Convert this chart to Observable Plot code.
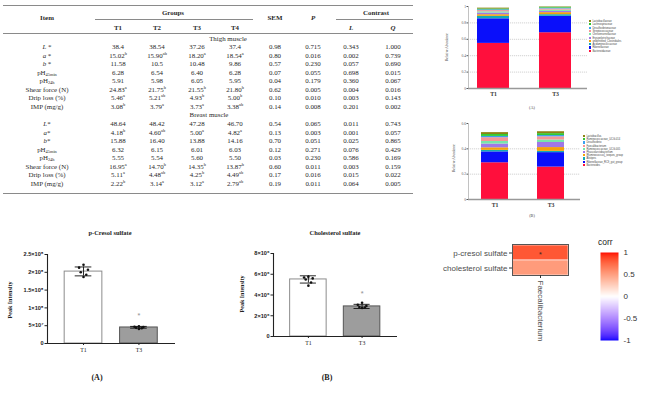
<!DOCTYPE html>
<html><head><meta charset="utf-8">
<script src="https://cdn.jsdelivr.net/npm/d3@7"></script>
<script src="https://cdn.jsdelivr.net/npm/@observablehq/plot@0.6"></script>
<style>
html,body{margin:0;padding:0;background:#fff;}
#root{position:relative;width:650px;height:393px;overflow:hidden;font-family:"Liberation Serif","DejaVu Serif",serif;color:#2a2a2a;}
.a{position:absolute;white-space:nowrap;line-height:1;}
.c{transform:translate(-50%,-50%);}
.tbl{font-size:6.9px;}
sup{font-size:4.4px;vertical-align:2.6px;line-height:0;}
sub{font-size:4.4px;vertical-align:-1.5px;line-height:0;}
.hr{position:absolute;height:0;border-top:1px solid #8a8a8a;}
#root svg{position:absolute;overflow:visible;}
.lg{position:absolute;white-space:nowrap;font-family:"Liberation Sans",Arial,sans-serif;font-size:2.6px;line-height:1;color:#444;}
.lg i{display:inline-block;width:2.2px;height:2.2px;margin-right:1.2px;vertical-align:-0.3px;}
</style></head>
<body><div id="root"></div>
<script>
// ================= DATA =================
// --- table ---
const groupNames = ["T1","T2","T3","T4"];
const contrastNames = ["L","Q"];
const sectionNames = ["Thigh muscle","Breast muscle"];

const thighItems = ["L *","a *","b *","pH_45min","pH_24h","Shear force (N)","Drip loss (%)","IMP (mg/g)"];
const thighT1  = ["38.4","15.02^b","11.58","6.28","5.91","24.83^a","5.46^a","3.08^b"];
const thighT2  = ["38.54","15.90^ab","10.5","6.54","5.98","21.75^b","5.21^ab","3.79^a"];
const thighT3  = ["37.26","18.20^a","10.48","6.40","6.05","21.55^b","4.93^b","3.73^a"];
const thighT4  = ["37.4","18.54^a","9.86","6.28","5.95","21.80^b","5.00^b","3.38^ab"];
const thighSEM = ["0.98","0.80","0.57","0.07","0.04","0.62","0.10","0.14"];
const thighP   = ["0.715","0.016","0.230","0.055","0.179","0.005","0.010","0.008"];
const thighL   = ["0.343","0.002","0.057","0.698","0.360","0.004","0.003","0.201"];
const thighQ   = ["1.000","0.739","0.690","0.015","0.067","0.016","0.143","0.002"];

const breastItems = ["L*","a*","b*","pH_45min","pH_24h","Shear force (N)","Drip loss (%)","IMP (mg/g)"];
const breastT1  = ["48.64","4.18^b","15.88","6.32","5.55","16.95^a","5.11^a","2.22^b"];
const breastT2  = ["48.42","4.60^ab","16.40","6.15","5.54","14.70^b","4.48^ab","3.14^a"];
const breastT3  = ["47.28","5.00^a","13.88","6.01","5.60","14.35^b","4.25^b","3.12^a"];
const breastT4  = ["46.70","4.82^a","14.16","6.03","5.50","13.87^b","4.49^ab","2.79^ab"];
const breastSEM = ["0.54","0.13","0.70","0.12","0.03","0.60","0.17","0.19"];
const breastP   = ["0.065","0.003","0.051","0.271","0.230","0.011","0.016","0.011"];
const breastL   = ["0.011","0.001","0.025","0.076","0.586","0.003","0.015","0.064"];
const breastQ   = ["0.743","0.057","0.865","0.429","0.169","0.159","0.022","0.005"];

// --- relative abundance stacks (bottom -> top) ---
const stackGroups = ["T1","T3"];
const familyTaxa = ["Bacteroidaceae","Rikenellaceae","Acidaminococcaceae","unidentified_Clostridiales","Erysipelotrichaceae","Christensenellaceae","Streptococcaceae","Desulfovibrionaceae","Lachnospiraceae","Lactobacillaceae"];
const familyT1 = [0.55,0.30,0.03,0.02,0.02,0.015,0.015,0.01,0.01,0.01];
const familyT3 = [0.68,0.20,0.02,0.025,0.015,0.015,0.015,0.01,0.01,0.005];
const genusTaxa = ["Bacteroides","Rikenellaceae_RC9_gut_group","Alistipes","[Ruminococcus]_torques_group","Phascolarctobacterium","Ruminococcaceae_UCG-005","Faecalibacterium","Desulfovibrio","Ruminococcaceae_UCG-014","Lactobacillus"];
const genusT1 = [0.29,0.086,0.012,0.02,0.03,0.02,0.03,0.01,0.015,0.015];
const genusT3 = [0.256,0.114,0.01,0.03,0.04,0.02,0.025,0.01,0.015,0.015];
const abundTicksA = [0,0.2,0.4,0.6,0.8,1];
const abundLabelsA = ["0","0.2","0.4","0.6","0.8","1"];
const abundTicksB = [0,0.2,0.4,0.6];
const abundLabelsB = ["0","0.2","0.4","0.6"];

// --- metabolite bars ---
const metabGroups = ["T1","T3"];
const cresolMean = [2.02e8, 0.45e8];
const cresolLow  = [1.90e8, 0.43e8];
const cresolHigh = [2.15e8, 0.48e8];
const cresolT1 = [2.21e8,2.13e8,2.07e8,2.00e8,1.93e8,1.87e8];
const cresolT3 = [0.48e8,0.47e8,0.46e8,0.44e8,0.43e8,0.41e8];
const cresolStar = 0.80e8;
const cresolTicks = [0,5e7,1e8,1.5e8,2e8,2.5e8];
const cresolTickLabels = ["0","5×10⁷","1×10⁸","1.5×10⁸","2×10⁸","2.5×10⁸"];
const cholMean = [5.5e6, 2.9e6];
const cholLow  = [5.15e6, 2.7e6];
const cholHigh = [5.85e6, 3.1e6];
const cholT1 = [5.75e6,5.68e6,5.6e6,5.5e6,5.2e6,4.9e6];
const cholT3 = [3.25e6,3.05e6,2.95e6,2.85e6,2.8e6,2.75e6];
const cholStar = 4.15e6;
const cholTicks = [0,2e6,4e6,6e6,8e6];
const cholTickLabels = ["0","2×10⁶","4×10⁶","6×10⁶","8×10⁶"];

// --- correlation heatmap ---
const heatMetabolites = ["p-cresol sulfate","cholesterol sulfate"];
const heatGenus = ["Faecalibacterium"];
const heatCorr = [0.82, 0.52];
const heatSig = ["*",""];
const corrTicks = [-1,-0.5,0,0.5,1];
const corrTickLabels = ["-1","-0.5","0","0.5","1"];

// ================= STYLES =================
const taxaColors = ["#FF0F3C","#0A0FFA","#14AAB4","#F5A20A","#A078E6","#78E6AA","#F59696","#3CA0F0","#32C832","#8C8214"];
const barFill = ["#ffffff","#9d9d9d"];
const barStroke = ["#8c8c8c","#555555"];
const dotSpread = [0,-0.08,0.08,-0.05,0.05,0];
const corrColor = {type:"linear", domain:[-1,0,1], range:["#0000FF","#FFFFFF","#FF0000"], interpolate:"lab"};

const root = document.getElementById("root");
function put(el, left, top){ el.style.left = left+"px"; el.style.top = top+"px"; root.appendChild(el); return el; }
function txt(html, x, y, cls, css){ const d=document.createElement("div"); d.className="a "+(cls||""); d.innerHTML=html; if(css) d.style.cssText=css; return put(d,x,y); }
function hr(x1,x2,y,w){ const d=document.createElement("div"); d.className="hr"; d.style.width=(x2-x1)+"px"; if(w) d.style.borderTopWidth=w+"px"; return put(d,x1,y); }
function fmt(s){ return s.replace(/\^([a-z]+)/g,"<sup>$1</sup>").replace(/_([0-9a-z]+)/g,"<sub>$1</sub>").replace(/^([Lab])(\s?\*)$/,"<i>$1</i>$2"); }

// ================= TABLE =================
const colX = [47,118,157,197,235,275,313,351,393];
const rowY0 = 47, rowStep = 8.56;
hr(3,413,4.5,1.5);
hr(95,253,19);
hr(336,413,19);
hr(3,413,32.5);
hr(3,413,192.5,1.5);
txt("<b>Item</b>", colX[0], 18, "c tbl");
txt("<b>Groups</b>", 173, 12.5, "c tbl");
groupNames.forEach((g,i)=>txt("<b>"+g+"</b>", colX[1+i], 27.5, "c tbl"));
txt("<b>SEM</b>", colX[5], 18, "c tbl");
txt("<b><i>P</i></b>", colX[6], 18, "c tbl");
txt("<b>Contrast</b>", 376, 12.5, "c tbl");
contrastNames.forEach((g,i)=>txt("<b><i>"+g+"</i></b>", colX[7+i], 27.5, "c tbl"));
txt(sectionNames[0], 228, 38.5, "c tbl");
txt(sectionNames[1], 209, rowY0+8*rowStep, "c tbl");
const sections = [
  {start:0, cols:[thighItems,thighT1,thighT2,thighT3,thighT4,thighSEM,thighP,thighL,thighQ]},
  {start:9, cols:[breastItems,breastT1,breastT2,breastT3,breastT4,breastSEM,breastP,breastL,breastQ]}
];
sections.forEach(s=>{
  s.cols.forEach((col,ci)=>col.forEach((v,ri)=>txt(fmt(v), colX[ci], rowY0+(s.start+ri)*rowStep, "c tbl")));
});

// ================= STACKED BARS =================
function stackPanel(o){
  const data = [];
  o.taxa.forEach((t,i)=>{ data.push({g:o.groups[0], t, v:o.v1[i]}); data.push({g:o.groups[1], t, v:o.v2[i]}); });
  const p = Plot.plot({
    width:o.width, height:o.height, marginLeft:28, marginRight:1, marginTop:o.mt, marginBottom:12,
    x:{type:"band", domain:o.groups, paddingInner:o.pi, paddingOuter:o.po, align:o.align, label:null},
    y:{domain:[0,o.ymax], label:null},
    color:{domain:o.taxa, range:taxaColors},
    style:{background:"transparent", overflow:"visible", color:"#555", fontFamily:"Liberation Serif, serif"},
    marks:[
      Plot.gridY({ticks:o.ticks.filter(d=>d>0 && d<o.ymax), stroke:"#b5b5b5", strokeOpacity:1, strokeWidth:0.6, strokeDasharray:"1.2,0.8"}),
      Plot.barY(data, {x:"g", y:"v", fill:"t", order:o.taxa}),
      Plot.ruleY([0], {stroke:"#999", strokeWidth:1.4}),
      Plot.frame({anchor:"left", stroke:"#999", strokeWidth:0.6}),
      Plot.axisY({ticks:o.ticks, tickFormat:d=>o.labels[o.ticks.indexOf(d)], tickSize:1.5, tickPadding:1, fontSize:3.6, label:null}),
      Plot.axisX({tickSize:0, tickPadding:3, fontSize:5.8, fontWeight:"bold", fill:"#333", label:null})
    ]
  });
  put(p, o.left, o.top);
  txt("Relative Abundance", o.ylabX, o.ylabY, "c", "font-size:3.4px;color:#555;transform:translate(-50%,-50%) rotate(-90deg);");
  const legendOrder = o.taxa.map((t,i)=>i).reverse();
  legendOrder.forEach((i,k)=>{
    const d=document.createElement("div"); d.className="lg";
    d.innerHTML = '<i style="background:'+taxaColors[i]+'"></i>'+o.taxa[i];
    put(d, o.legX, o.legY + k*o.legStep);
  });
  txt(o.tag, o.tagX, o.tagY, "c", "font-size:4.2px;color:#444;");
}
stackPanel({taxa:familyTaxa, groups:stackGroups, v1:familyT1, v2:familyT3, left:440, top:0, width:148, height:100, mt:6,
  pi:0.484, po:0.2, align:0.36, ymax:1, ticks:abundTicksA, labels:abundLabelsA,
  ylabX:448, ylabY:47, legX:589, legY:20, legStep:3.3, tag:"(A)", tagX:532, tagY:108});
stackPanel({taxa:genusTaxa, groups:stackGroups, v1:genusT1, v2:genusT3, left:440, top:115, width:141, height:96, mt:8,
  pi:0.509, po:0.237, align:0.44, ymax:0.6, ticks:abundTicksB, labels:abundLabelsB,
  ylabX:455, ylabY:158, legX:583, legY:135, legStep:3.2, tag:"(B)", tagX:532, tagY:216});

// ================= METABOLITE BARS =================
function metabPanel(o){
  const bars = o.groups.map((g,i)=>({x:i+1, g, mean:o.mean[i], lo:o.low[i], hi:o.high[i]}));
  const pts = [];
  o.points.forEach((arr,gi)=>arr.forEach((v,j)=>pts.push({x:gi+1+dotSpread[j%dotSpread.length], v})));
  const hw = 0.34, cw = 0.15;
  const p = Plot.plot({
    width:o.width, height:o.height, marginLeft:o.ml, marginRight:5, marginTop:o.mt, marginBottom:o.mb,
    x:{domain:[0.35,2.66], axis:null},
    y:{domain:[0,o.ymax], axis:null},
    style:{background:"transparent", overflow:"visible", color:"#222"},
    marks:[
      ...bars.map((b,i)=>Plot.rect([b], {x1:d=>d.x-hw, x2:d=>d.x+hw, y1:0, y2:"mean", fill:barFill[i], stroke:barStroke[i], strokeWidth:1})),
      Plot.ruleX(bars, {x:"x", y1:"lo", y2:"hi", stroke:"#111", strokeWidth:0.9}),
      Plot.ruleY(bars, {y:"hi", x1:d=>d.x-cw, x2:d=>d.x+cw, stroke:"#111", strokeWidth:0.9}),
      Plot.ruleY(bars, {y:"lo", x1:d=>d.x-cw, x2:d=>d.x+cw, stroke:"#111", strokeWidth:0.9}),
      Plot.dot(pts, {x:"x", y:"v", r:1.3, fill:"#111", stroke:null}),
      Plot.text([o.star], {x:2, y:d=>d, text:()=>"*", fontSize:6, fill:"#888"}),
      Plot.ruleX([0.35], {stroke:"#222", strokeWidth:1.1}),
      Plot.ruleY([0], {stroke:"#222", strokeWidth:1.1}),
      Plot.axisY({ticks:o.ticks, tickFormat:d=>o.labels[o.ticks.indexOf(d)], tickSize:2.5, tickPadding:1.5, fontSize:5.6, fontWeight:"bold", fontFamily:"Liberation Sans, Arial, sans-serif", label:null}),
      Plot.axisX({ticks:[1,2], tickFormat:d=>o.groups[d-1], tickSize:2, tickPadding:2, fontSize:5.8, fontFamily:"Liberation Serif, serif", label:null})
    ]
  });
  put(p, o.left, o.top);
  txt(o.title, o.titleX, 233, "c", "font-size:6.4px;font-weight:bold;color:#222;");
  txt("Peak Intensity", o.ylabX, o.ylabY, "c", "font-size:6px;font-weight:bold;color:#222;transform:translate(-50%,-50%) rotate(-90deg);");
  txt(o.tag, o.tagX, 378, "c", "font-size:8px;font-weight:bold;color:#222;");
}
metabPanel({groups:metabGroups, mean:cresolMean, low:cresolLow, high:cresolHigh, points:[cresolT1,cresolT3], star:cresolStar,
  ticks:cresolTicks, labels:cresolTickLabels, ymax:2.5e8, left:0, top:240, width:180, height:117, ml:47, mt:14, mb:14,
  title:"p-Cresol sulfate", titleX:110, ylabX:10, ylabY:300, tag:"(A)", tagX:97});
metabPanel({groups:metabGroups, mean:cholMean, low:cholLow, high:cholHigh, points:[cholT1,cholT3], star:cholStar,
  ticks:cholTicks, labels:cholTickLabels, ymax:8e6, left:220, top:240, width:182, height:110, ml:53, mt:13, mb:14,
  title:"Cholesterol sulfate", titleX:335, ylabX:242, ylabY:294, tag:"(B)", tagX:327});

// ================= HEATMAP =================
const heat = heatMetabolites.map((m,i)=>({g:heatGenus[0], m, c:heatCorr[i], s:heatSig[i]}));
const hm = Plot.plot({
  width:160, height:125, marginLeft:92, marginRight:12, marginTop:9, marginBottom:85,
  x:{domain:heatGenus, padding:0, label:null},
  y:{domain:heatMetabolites, padding:0, label:null},
  color:corrColor,
  style:{background:"transparent", overflow:"visible", color:"#333"},
  marks:[
    Plot.cell(heat, {x:"g", y:"m", fill:"c", stroke:"white", strokeWidth:0.6}),
    Plot.text(heat, {x:"g", y:"m", text:"s", fontSize:6, dy:1.5, fill:"#222"}),
    Plot.frame({stroke:"#555", strokeWidth:1}),
    Plot.axisY({tickSize:3, tickPadding:2, fontSize:8, fill:"#4d4d4d", fontFamily:"Liberation Sans, Arial, sans-serif", label:null}),
    Plot.axisX({tickSize:3, tickPadding:2, tickRotate:90, fontSize:8, fill:"#4d4d4d", fontFamily:"Liberation Sans, Arial, sans-serif", label:null})
  ]
});
put(hm, 420, 235);
txt("corr", 598, 242, "", "font-size:8.5px;color:#222;font-family:'Liberation Sans',Arial,sans-serif;transform:translateY(-50%);");
const cb = Plot.plot({
  width:50, height:98, marginLeft:0, marginRight:32, marginTop:5, marginBottom:5,
  x:{domain:[0,1], axis:null},
  y:{domain:[-1,1], axis:null},
  color:corrColor,
  style:{background:"transparent", overflow:"visible", color:"#333"},
  marks:[
    Plot.raster({x1:0, x2:1, y1:-1, y2:1, fill:(x,y)=>y}),
    Plot.axisY({anchor:"right", ticks:corrTicks, tickFormat:d=>corrTickLabels[corrTicks.indexOf(d)], tickSize:0, tickPadding:5, fontSize:8, fill:"#333", fontFamily:"Liberation Sans, Arial, sans-serif", label:null})
  ]
});
put(cb, 600, 247);
</script></body></html>
